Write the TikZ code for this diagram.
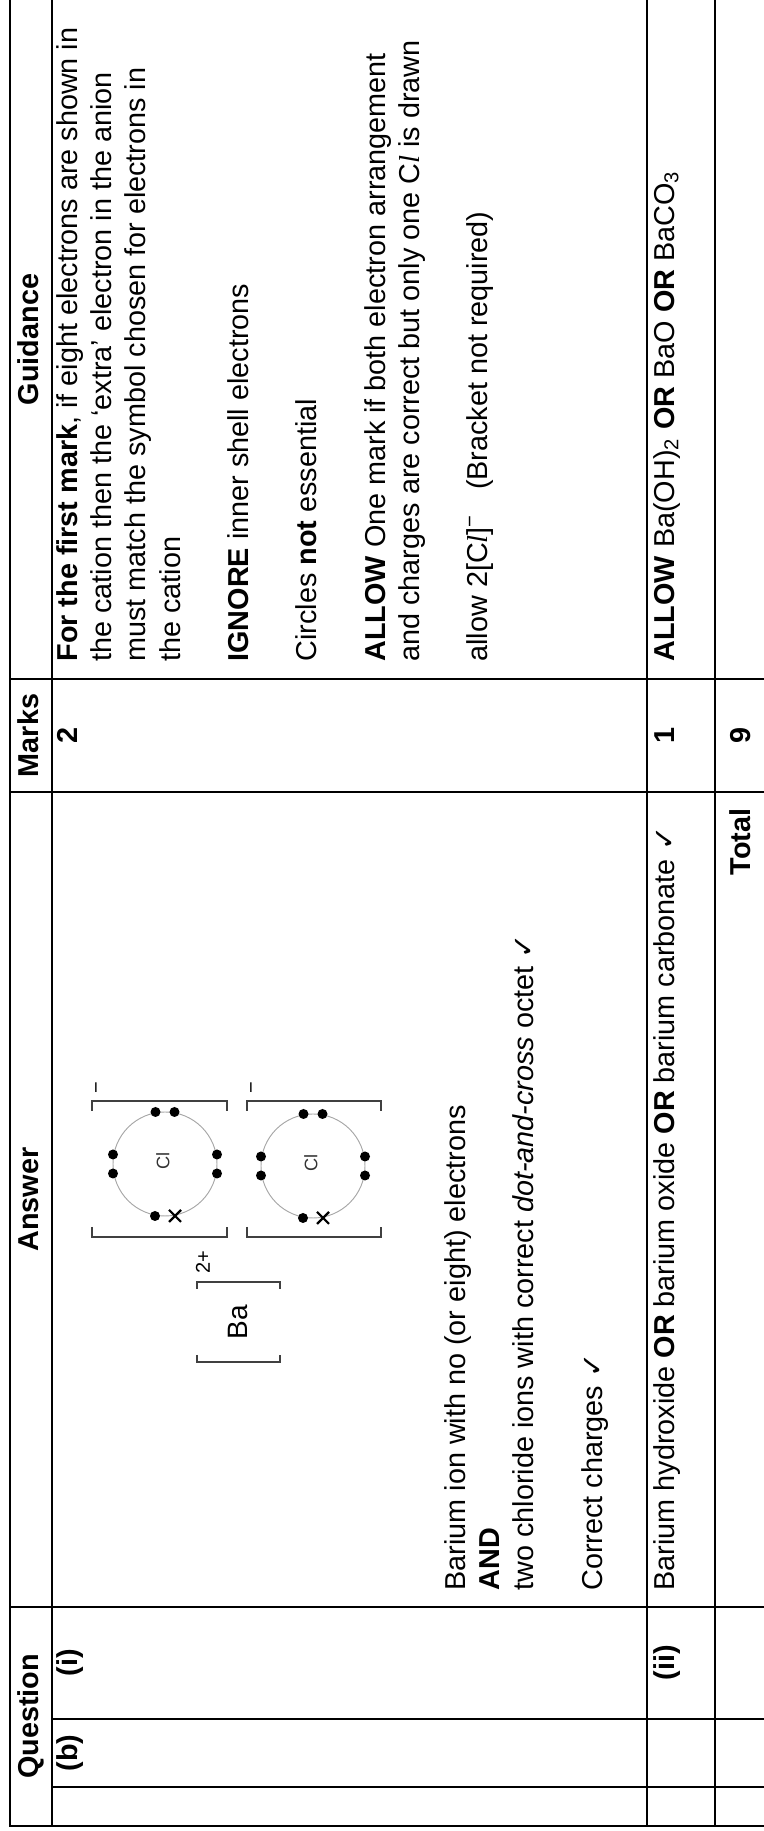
\documentclass[tikz,border=0pt]{standalone}
\usepackage{fontspec}
\setmainfont{Liberation Sans}
\newfontfamily\checkfont{DejaVu Sans}
\newfontfamily\elfont{Liberation Serif}
\newcommand{\chk}{{\checkfont ✓}}
\newcommand{\Clit}{C{\elfont\itshape l}}

\begin{document}
\begin{tikzpicture}[x=0.375pt, y=0.375pt,
    grid/.style ={line width=0.65pt, line cap=rect},
    txt/.style ={anchor=base west, inner sep=0pt, font=\fontsize{10.8}{13}\selectfont},
    head/.style ={anchor=base, inner sep=0pt, font=\fontsize{10.8}{13}\selectfont\bfseries},
    shell/.style ={draw=black!35, line width=0.35pt},
    bracket/.style ={draw=black!75, line width=0.5pt},
    cross/.style ={line width=0.8pt},
    charge/.style ={inner sep=0pt, font=\fontsize{7.5}{8}\selectfont},
    symbol/.style ={inner sep=0pt, text=black!80, font=\fontsize{6.8}{8}\selectfont}]
 \useasboundingbox (0,0) rectangle (763,1831);
 \begin{scope}[rotate=90, transform shape]
   % table rules
   \draw[grid] (5,-10) -- (1831,-10);
   \draw[grid] (5,-52) -- (1831,-52);
   \draw[grid] (5,-647) -- (1831,-647);
   \draw[grid] (5,-715) -- (1831,-715);
   \draw[grid] (5,-10) -- (5,-763);
   \foreach \c in {44,112} \draw[grid] (\c,-52) -- (\c,-763);
   \foreach \c in {224,1039,1152} \draw[grid] (\c,-10) -- (\c,-763);
   % header
   \node[head] (q) at (114.5,-38) {Question};
   \node[head] (ans) at (631.5,-38) {Answer};
   \node[head] (mk) at (1095.5,-38) {Marks};
   \node[head] (gd) at (1491.5,-38) {Guidance};
   % part (b)(i)
   \node[head] (b) at (78,-77) {(b)};
   \node[head] (i) at (168,-77) {(i)};
   \node[head] (m1) at (1095.5,-77) {2};
   \node[txt] (a1) at (240,-465) {Barium ion with no (or eight) electrons};
   \node[txt] (a2) at (240,-499) {\textbf{AND}};
   \node[txt] (a3) at (240,-533) {two chloride ions with correct \textit{dot-and-cross} octet \chk};
   \node[txt] (a4) at (240,-602) {Correct charges \chk};
   \node[txt] (g1) at (1169,-77) {\textbf{For the first mark}, if eight electrons are shown in};
   \node[txt] (g2) at (1169,-111) {the cation then the ‘extra’ electron in the anion};
   \node[txt] (g3) at (1169,-145) {must match the symbol chosen for electrons in};
   \node[txt] (g4) at (1169,-180) {the cation};
   \node[txt] (g5) at (1169,-248) {\textbf{IGNORE} inner shell electrons};
   \node[txt] (g6) at (1169,-316) {Circles \textbf{not} essential};
   \node[txt] (g7) at (1169,-385) {\textbf{ALLOW} One mark if both electron arrangement};
   \node[txt] (g8) at (1169,-419) {and charges are correct but only one \Clit\ is drawn};
   \node[txt] (g9) at (1169,-487) {allow 2[\Clit]\textsuperscript{−}\ \ \ (Bracket not required)};
   % part (ii)
   \node[head] (ii) at (168,-674) {(ii)};
   \node[txt] (a5) at (240,-674) {Barium hydroxide \textbf{OR} barium oxide \textbf{OR} barium carbonate \chk};
   \node[head] (m2) at (1095.5,-674) {1};
   \node[txt] (g10) at (1169,-674) {\textbf{ALLOW} Ba(OH)\textsubscript{2} \textbf{OR} BaO \textbf{OR} BaCO\textsubscript{3}};
   % total
   \node[head, anchor=base east] (tot) at (1023,-750) {Total};
   \node[head] (m3) at (1095.5,-750) {9};
   % barium ion
   \draw[bracket] (476,-197) -- (469,-197) -- (469,-280) -- (476,-280);
   \draw[bracket] (542,-197) -- (549,-197) -- (549,-280) -- (542,-280);
   \node[inner sep=0pt, font=\fontsize{10.5}{12}\selectfont] (ba) at (509,-238) {Ba};
   \node[charge] (ba2) at (569,-203) {2+};
   % chloride ions
   \foreach \n/\cx/\cy/\bt/\bb in {1/667/-165/-92/-227, 2/665/-313/-247/-381}{
     \draw[shell] (\cx,\cy) circle (52);
     \node[symbol] (cl\n) at (\cx+3,\cy+2) {Cl};
     \foreach \d in {-9.5,9.5}{
       \fill (\cx+\d,\cy+52) circle (5);
       \fill (\cx+\d,\cy-52) circle (5);
       \fill (\cx+52,\cy+\d) circle (5);
     }
     \fill (\cx-52,\cy+10) circle (5);
     \draw[cross] (\cx-58,\cy-16) -- (\cx-46,\cy-4) (\cx-58,\cy-4) -- (\cx-46,\cy-16);
     \draw[bracket] (604,\bt) -- (594,\bt) -- (594,\bb) -- (604,\bb);
     \draw[bracket] (720,\bt) -- (730,\bt) -- (730,\bb) -- (720,\bb);
     \node[charge] (q\n) at (743.5,\bt-7) {−};
   }
 \end{scope}
\end{tikzpicture}
\end{document}
